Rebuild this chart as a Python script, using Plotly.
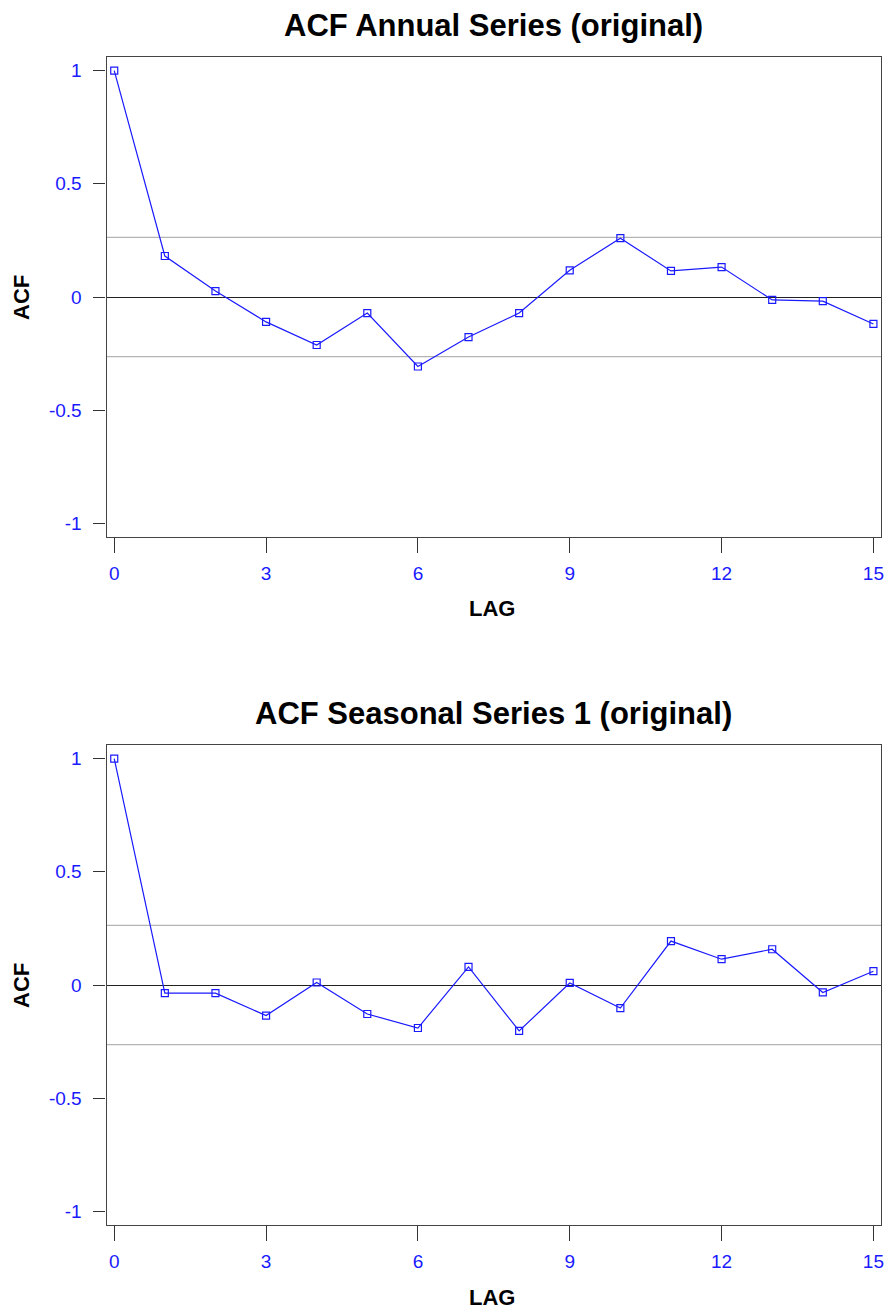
import plotly.graph_objects as go

# Lags and autocorrelation estimates
lags = list(range(16))
acf_annual = [1.0, 0.181, 0.026, -0.110, -0.212, -0.071, -0.307, -0.177,
              -0.071, 0.118, 0.260, 0.115, 0.132, -0.013, -0.018, -0.119]
acf_seasonal1 = [1.0, -0.036, -0.036, -0.135, 0.011, -0.128, -0.190, 0.080,
                 -0.203, 0.009, -0.102, 0.194, 0.114, 0.158, -0.033, 0.061]
conf_limit = 0.263  # approximate 95% significance bound

titles = ["ACF Annual Series (original)", "ACF Seasonal Series 1 (original)"]
x_ticks = [0, 3, 6, 9, 12, 15]
y_ticks = [-1, -0.5, 0, 0.5, 1]
y_ticktext = ["-1", "-0.5", "0", "0.5", "1"]

W, H = 887, 1311
FONT = "Liberation Sans, Arial, sans-serif"
BLUE = "#1a1aff"

# plot frames in pixels: (left, top, right, bottom)
frames = [(107, 57, 884, 537), (107, 745, 884, 1225)]

fig = go.Figure()
layout = dict(
    width=W, height=H, margin=dict(l=0, r=0, t=0, b=0),
    paper_bgcolor="white", plot_bgcolor="white",
    showlegend=False, font=dict(family=FONT), annotations=[], shapes=[],
)

for i, (series, title) in enumerate(zip([acf_annual, acf_seasonal1], titles)):
    n = "" if i == 0 else str(i + 1)
    left, top, right, bottom = frames[i]
    fig.add_trace(go.Scatter(
        x=lags, y=series, mode="lines+markers",
        xaxis="x" + n, yaxis="y" + n,
        line=dict(color=BLUE, width=1.2),
        marker=dict(symbol="square-open", size=7, color=BLUE,
                    line=dict(width=1.2, color=BLUE)),
        hoverinfo="x+y",
    ))
    layout["xaxis" + n] = dict(
        domain=[left / W, right / W], anchor="y" + n,
        range=[-0.15, 15.15], tickvals=x_ticks,
        ticks="outside", ticklen=15, tickwidth=1.2, tickcolor="#333",
        ticklabelstandoff=4,
        showline=True, linecolor="#444", linewidth=1.3, mirror=True,
        showgrid=False, zeroline=False,
        tickfont=dict(family=FONT, size=19, color=BLUE),
    )
    layout["yaxis" + n] = dict(
        domain=[1 - bottom / H, 1 - top / H], anchor="x" + n,
        range=[-1.06, 1.06], tickvals=y_ticks, ticktext=y_ticktext,
        ticks="outside", ticklen=12, tickwidth=1.2, tickcolor="#333",
        ticklabelstandoff=8,
        showline=True, linecolor="#444", linewidth=1.3, mirror=True,
        showgrid=False, zeroline=True, zerolinecolor="#222", zerolinewidth=1.2,
        tickfont=dict(family=FONT, size=19, color=BLUE),
    )
    for c in (conf_limit, -conf_limit):
        layout["shapes"].append(dict(
            type="line", xref="x" + n + " domain", yref="y" + n,
            x0=0, x1=1, y0=c, y1=c, layer="below",
            line=dict(color="#b4b4b4", width=1.2),
        ))
    cx = (left + right) / 2 / W
    layout["annotations"] += [
        dict(text="<b>%s</b>" % title, xref="paper", yref="paper",
             x=cx, y=1 - (top - 32) / H, showarrow=False,
             font=dict(family=FONT, size=31, color="black"),
             xanchor="center", yanchor="middle"),
        dict(text="<b>ACF</b>", xref="paper", yref="paper",
             x=21 / W, y=1 - ((top + bottom) / 2) / H, showarrow=False,
             textangle=-90, font=dict(family=FONT, size=22, color="black"),
             xanchor="center", yanchor="middle"),
        dict(text="<b>LAG</b>", xref="paper", yref="paper",
             x=494 / W, y=1 - (bottom + 72) / H, showarrow=False,
             font=dict(family=FONT, size=22, color="black"),
             xanchor="center", yanchor="middle"),
    ]

fig.update_layout(**layout)
fig.write_html("out.html")
